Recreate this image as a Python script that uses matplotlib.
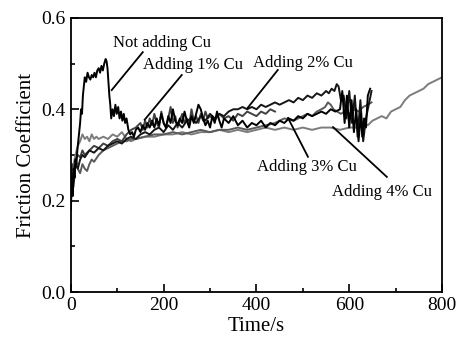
import matplotlib
matplotlib.use("Agg")
import matplotlib.pyplot as plt
from matplotlib.ticker import MultipleLocator, FormatStrFormatter

plt.rcParams['font.family'] = ['Liberation Serif', 'DejaVu Serif']

# Not adding Cu
t0 = [0, 2, 4, 6, 8, 10, 12, 14, 16, 18,
      20, 22, 24, 26, 28, 30, 33, 36, 39, 42,
      45, 48, 51, 54, 57, 60, 63, 66, 69, 72,
      75, 77, 79, 81, 83, 85, 87, 90, 93, 96,
      99, 102, 105, 108, 111, 114, 117, 120, 124, 128,
      132, 136, 140, 145, 150, 155, 160, 165, 170, 175,
      180, 185, 190, 195, 200, 205, 210, 215, 220, 225,
      230, 235, 240, 245, 250, 255, 260, 265, 270, 275,
      280, 285, 290, 295, 300, 305, 310, 315, 320, 325,
      330, 340, 350, 360, 370, 380, 390, 400, 410, 420,
      430, 440, 450, 460, 470, 480, 490, 500, 510, 520,
      530, 540, 550, 560, 570, 580, 585, 590, 595, 600,
      605, 610, 615, 620, 625, 628, 632, 636, 640, 645]
f0 = [0.18, 0.24, 0.21, 0.27, 0.25, 0.29, 0.28, 0.31, 0.33, 0.35,
      0.37, 0.40, 0.39, 0.43, 0.45, 0.47, 0.46, 0.48, 0.47, 0.465,
      0.475, 0.47, 0.48, 0.47, 0.485, 0.49, 0.48, 0.495, 0.485, 0.50,
      0.51, 0.505, 0.49, 0.46, 0.43, 0.41, 0.38, 0.40, 0.385, 0.41,
      0.39, 0.405, 0.38, 0.395, 0.375, 0.39, 0.37, 0.38, 0.355, 0.345,
      0.35, 0.34, 0.355, 0.36, 0.35, 0.365, 0.355, 0.37, 0.36, 0.375,
      0.36, 0.38, 0.365, 0.39, 0.37, 0.36, 0.385, 0.37, 0.40, 0.375,
      0.365, 0.38, 0.37, 0.395, 0.375, 0.36, 0.385, 0.37, 0.39, 0.41,
      0.40, 0.38, 0.365, 0.375, 0.36, 0.385, 0.37, 0.395, 0.375, 0.36,
      0.38, 0.37, 0.385, 0.365, 0.375, 0.36, 0.37, 0.365, 0.375, 0.36,
      0.37, 0.365, 0.375, 0.37, 0.38, 0.375, 0.385, 0.38, 0.39, 0.385,
      0.39, 0.395, 0.39, 0.40, 0.395, 0.40, 0.44, 0.37, 0.43, 0.36,
      0.42, 0.35, 0.40, 0.33, 0.39, 0.34, 0.38, 0.36, 0.43, 0.445]

# Adding 1% Cu
t1 = [0, 3, 6, 10, 15, 20, 25, 30, 40, 50,
      60, 70, 80, 90, 100, 110, 120, 130, 140, 150,
      155, 160, 165, 170, 175, 180, 185, 190, 195, 200,
      205, 210, 215, 220, 225, 230, 235, 240, 245, 250,
      255, 260, 265, 270, 275, 280, 285, 290, 295, 300,
      310, 320, 330, 340, 350, 360, 370, 380, 390, 400,
      410, 420, 430, 440]
f1 = [0.25, 0.28, 0.26, 0.29, 0.30, 0.295, 0.31, 0.30, 0.31, 0.32,
      0.315, 0.325, 0.32, 0.33, 0.335, 0.33, 0.345, 0.355, 0.36, 0.37,
      0.355, 0.375, 0.36, 0.38, 0.365, 0.39, 0.37, 0.36, 0.395, 0.37,
      0.36, 0.38, 0.405, 0.37, 0.385, 0.36, 0.375, 0.39, 0.37, 0.38,
      0.365, 0.40, 0.375, 0.385, 0.37, 0.39, 0.375, 0.395, 0.38, 0.385,
      0.375, 0.39, 0.38, 0.385, 0.375, 0.39, 0.385, 0.395, 0.39, 0.385,
      0.395, 0.39, 0.40, 0.395]

# Adding 2% Cu
t2 = [0, 3, 6, 10, 15, 20, 25, 30, 40, 50,
      60, 70, 80, 90, 100, 110, 120, 130, 140, 150,
      160, 170, 180, 190, 200, 210, 220, 230, 240, 250,
      260, 270, 280, 290, 300, 310, 320, 330, 340, 350,
      360, 370, 380, 390, 400, 410, 420, 430, 440, 450,
      460, 470, 480, 490, 500, 510, 520, 530, 540, 550,
      556, 562, 568, 573, 577, 582, 588, 594, 600, 606,
      612, 618, 624, 630, 636, 642, 648]
f2 = [0.22, 0.26, 0.24, 0.28, 0.27, 0.29, 0.30, 0.295, 0.31, 0.305,
      0.315, 0.31, 0.32, 0.325, 0.33, 0.325, 0.335, 0.34, 0.335, 0.345,
      0.35, 0.345, 0.355, 0.36, 0.35, 0.365, 0.355, 0.37, 0.36, 0.375,
      0.38, 0.37, 0.385, 0.375, 0.39, 0.38, 0.39, 0.385, 0.395, 0.40,
      0.40, 0.405, 0.40, 0.405, 0.40, 0.41, 0.405, 0.41, 0.415, 0.41,
      0.415, 0.42, 0.415, 0.425, 0.42, 0.43, 0.425, 0.435, 0.43, 0.44,
      0.435, 0.445, 0.44, 0.455, 0.45, 0.42, 0.43, 0.38, 0.44, 0.37,
      0.43, 0.34, 0.42, 0.33, 0.38, 0.41, 0.44]

# Adding 3% Cu
t3 = [0, 3, 6, 10, 15, 20, 25, 30, 35, 40,
      45, 50, 60, 70, 80, 90, 100, 110, 120, 130,
      140, 160, 180, 200, 220, 240, 260, 280, 300, 320,
      340, 360, 380, 400, 420, 440, 460, 480, 500, 510,
      520, 530, 540, 548, 554, 560, 566, 574, 582, 590,
      600, 610, 620, 630, 640, 648]
f3 = [0.20, 0.27, 0.23, 0.29, 0.27, 0.26, 0.28, 0.27, 0.265, 0.28,
      0.29, 0.285, 0.30, 0.31, 0.315, 0.32, 0.325, 0.33, 0.33, 0.335,
      0.335, 0.34, 0.345, 0.345, 0.35, 0.345, 0.35, 0.355, 0.35, 0.355,
      0.355, 0.36, 0.355, 0.36, 0.365, 0.37, 0.38, 0.375, 0.385, 0.39,
      0.385, 0.395, 0.40, 0.405, 0.415, 0.41, 0.40, 0.395, 0.39, 0.395,
      0.39, 0.40, 0.395, 0.405, 0.41, 0.415]

# Adding 4% Cu
t4 = [0, 3, 6, 10, 15, 20, 25, 30, 35, 40,
      45, 50, 55, 60, 70, 80, 90, 100, 110, 120,
      130, 140, 160, 180, 200, 220, 240, 260, 280, 300,
      320, 340, 360, 380, 400, 420, 440, 460, 480, 500,
      520, 540, 560, 580, 600, 620, 630, 640, 650, 660,
      670, 680, 690, 700, 710, 720, 730, 740, 750, 760,
      770, 780, 790, 800]
f4 = [0.26, 0.23, 0.28, 0.30, 0.32, 0.33, 0.345, 0.335, 0.34, 0.33,
      0.345, 0.335, 0.34, 0.335, 0.34, 0.335, 0.345, 0.34, 0.35, 0.335,
      0.33, 0.335, 0.34, 0.34, 0.345, 0.345, 0.35, 0.345, 0.35, 0.35,
      0.355, 0.35, 0.355, 0.35, 0.355, 0.36, 0.355, 0.36, 0.355, 0.36,
      0.355, 0.36, 0.36, 0.355, 0.36, 0.36, 0.37, 0.365, 0.375, 0.38,
      0.385, 0.38, 0.395, 0.40, 0.405, 0.42, 0.43, 0.435, 0.44, 0.445,
      0.455, 0.46, 0.465, 0.47]

fig = plt.figure(figsize=(4.6, 3.51), dpi=100)
ax = fig.add_axes([0.154, 0.168, 0.807, 0.781])

ax.plot(t4, f4, color='#7c7c7c', lw=1.4)
ax.plot(t3, f3, color='#5a5a5a', lw=1.4)
ax.plot(t1, f1, color='#404040', lw=1.4)
ax.plot(t2, f2, color='#151515', lw=1.4)
ax.plot(t0, f0, color='black', lw=1.4)

# labels with pointer lines
notes = [
    ('Not adding Cu', (91, 0.545), (155, 0.525), (88, 0.442)),
    ('Adding 1% Cu', (155, 0.497), (239, 0.475), (159, 0.377)),
    ('Adding 2% Cu', (392, 0.502), (446, 0.486), (381, 0.403)),
    ('Adding 3% Cu', (401, 0.274), (511, 0.296), (468, 0.381)),
    ('Adding 4% Cu', (562, 0.219), (681, 0.252), (565, 0.361)),
]
for txt, pos, p1, p2 in notes:
    ax.text(pos[0], pos[1], txt, fontsize=12, va='center', ha='left')
    ax.plot([p1[0], p2[0]], [p1[1], p2[1]], color='black', lw=1.3)

ax.set_xlim(0, 800)
ax.set_ylim(0, 0.6)
ax.xaxis.set_major_locator(MultipleLocator(200))
ax.xaxis.set_minor_locator(MultipleLocator(100))
ax.yaxis.set_major_locator(MultipleLocator(0.2))
ax.yaxis.set_minor_locator(MultipleLocator(0.1))
ax.yaxis.set_major_formatter(FormatStrFormatter('%.1f'))
ax.tick_params(which='both', direction='in', labelsize=14, width=1.2)
ax.tick_params(which='major', length=6)
ax.tick_params(which='minor', length=3)
for s in ax.spines.values():
    s.set_linewidth(1.3)

ax.set_xlabel('Time/s', fontsize=15, labelpad=2)
ax.set_ylabel('Friction Coefficient', fontsize=15, labelpad=4)

fig.savefig('out.png', dpi=100)
